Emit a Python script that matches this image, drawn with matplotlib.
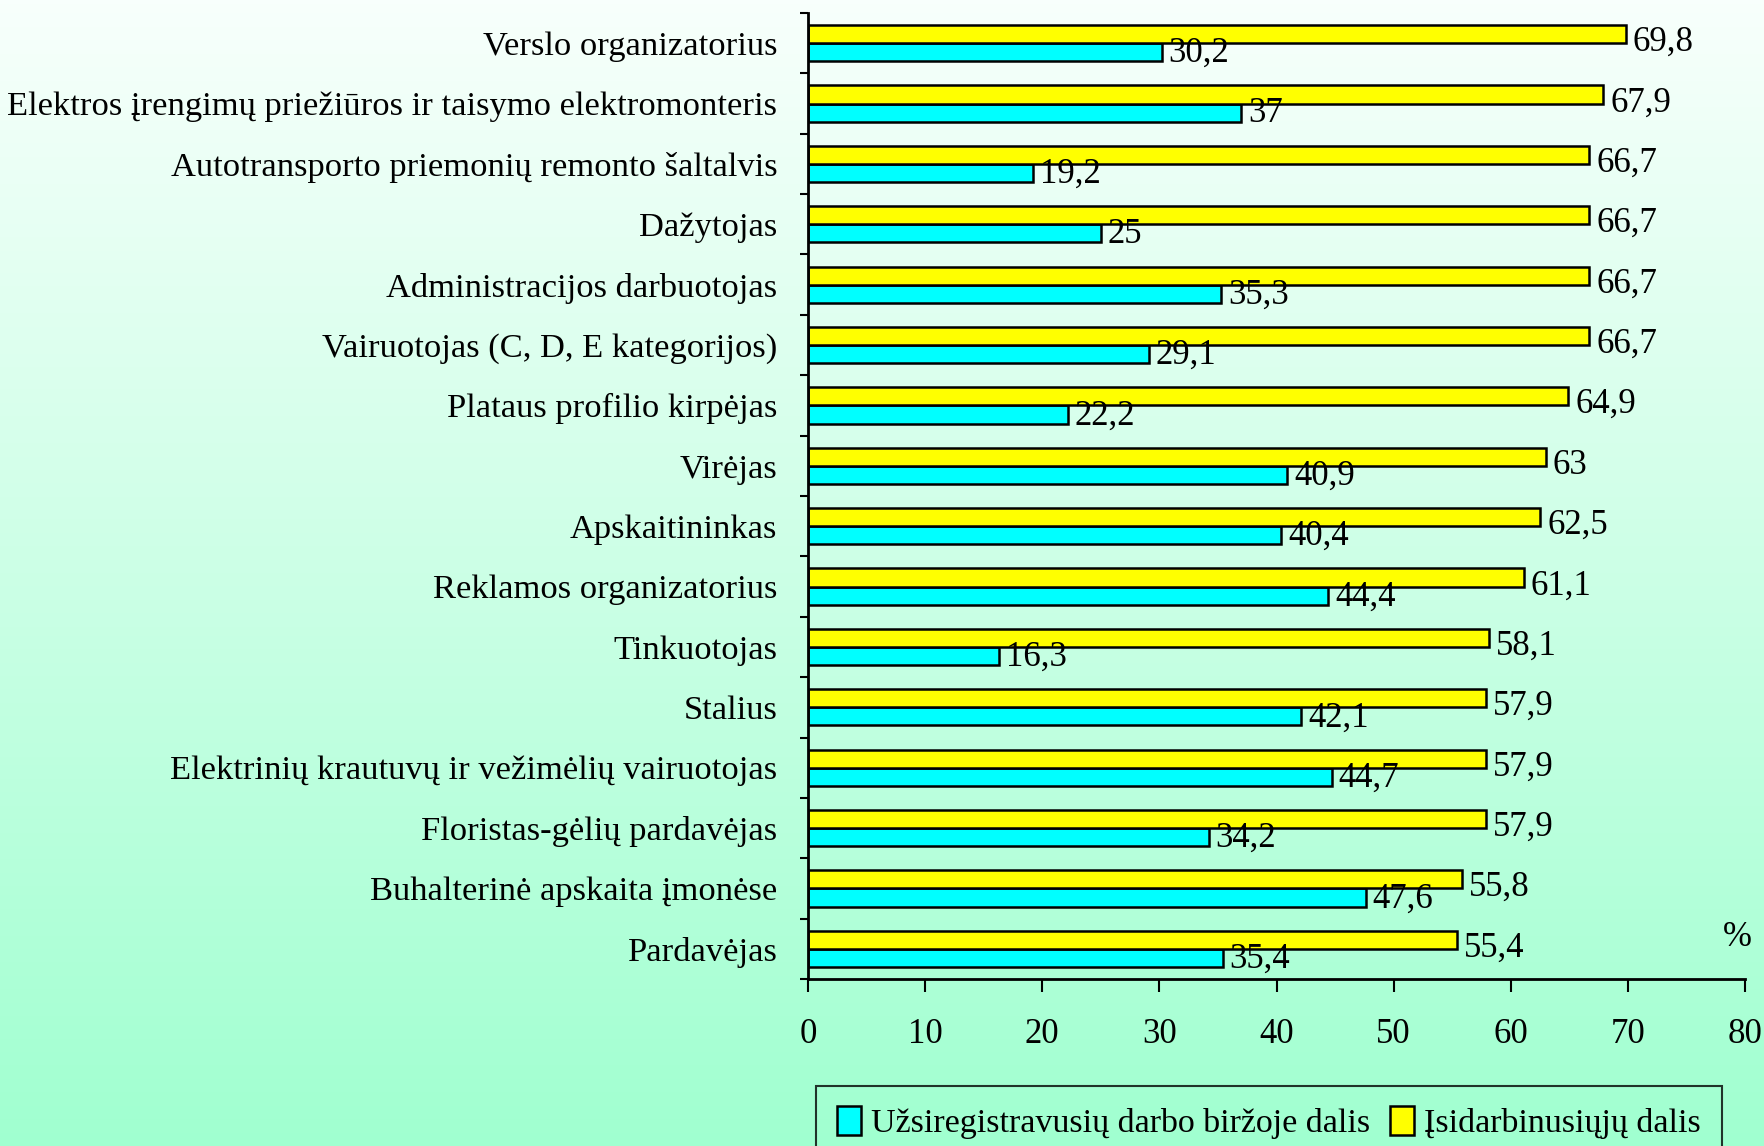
import numpy as np
import matplotlib
matplotlib.use('Agg')
import matplotlib.pyplot as plt
from matplotlib.colors import LinearSegmentedColormap

plt.rcParams['font.family'] = ['Liberation Serif', 'DejaVu Serif']

occupations = [
    'Verslo organizatorius',
    'Elektros įrengimų priežiūros ir taisymo elektromonteris',
    'Autotransporto priemonių remonto šaltalvis',
    'Dažytojas',
    'Administracijos darbuotojas',
    'Vairuotojas (C, D, E kategorijos)',
    'Plataus profilio kirpėjas',
    'Virėjas',
    'Apskaitininkas',
    'Reklamos organizatorius',
    'Tinkuotojas',
    'Stalius',
    'Elektrinių krautuvų ir vežimėlių vairuotojas',
    'Floristas-gėlių pardavėjas',
    'Buhalterinė apskaita įmonėse',
    'Pardavėjas',
]
employed = [69.8, 67.9, 66.7, 66.7, 66.7, 66.7, 64.9, 63, 62.5, 61.1, 58.1, 57.9, 57.9, 57.9, 55.8, 55.4]
registered = [30.2, 37, 19.2, 25, 35.3, 29.1, 22.2, 40.9, 40.4, 44.4, 16.3, 42.1, 44.7, 34.2, 47.6, 35.4]
xticks = [0, 10, 20, 30, 40, 50, 60, 70, 80]

legend_labels = ['Užsiregistravusių darbo biržoje dalis', 'Įsidarbinusiųjų dalis']


def fmt(v):
    if float(v).is_integer():
        return str(int(v))
    return ('%.1f' % v).replace('.', ',')


fig = plt.figure(figsize=(17.65, 11.46), dpi=100)

# background gradient
bg = fig.add_axes([0, 0, 1, 1], zorder=-1)
cmap = LinearSegmentedColormap.from_list('bg', ['#f8fffc', '#a0ffd0'])
bg.imshow(np.linspace(0, 1, 256).reshape(-1, 1), aspect='auto', cmap=cmap,
          extent=[0, 1, 0, 1], origin='upper')
bg.axis('off')

ax = fig.add_axes([0.4578, 0.1457, 0.5309, 0.843])
ax.set_facecolor('none')

y = np.arange(len(occupations))
h = 0.3
b1 = ax.barh(y + h / 2, registered, height=h, color='#00ffff', edgecolor='black',
             linewidth=1.8, label=legend_labels[0])
b2 = ax.barh(y - h / 2, employed, height=h, color='#ffff00', edgecolor='black',
             linewidth=1.8, label=legend_labels[1])

for yi, v in zip(y, employed):
    ax.annotate(fmt(v), (v, yi - h / 2), xytext=(5, -6), textcoords='offset points',
                ha='left', va='center', fontsize=25)
for yi, v in zip(y, registered):
    ax.annotate(fmt(v), (v, yi + h / 2), xytext=(5, -1), textcoords='offset points',
                ha='left', va='center', fontsize=25)

ax.set_xlim(0, 80)
ax.set_ylim(len(occupations) - 0.5, -0.5)
ax.set_xticks(xticks)
ax.set_xticklabels([str(t) for t in xticks], fontsize=25)
ax.set_yticks(y)
ax.set_yticklabels(occupations, fontsize=24.8)
ax.set_yticks(np.arange(len(occupations) + 1) - 0.5, minor=True)
ax.tick_params(axis='y', which='major', length=0, pad=22)
ax.tick_params(axis='y', which='minor', length=6, width=1.5, direction='out')
ax.tick_params(axis='x', length=9, width=1.5, direction='out', pad=19)

for s in ['top', 'right']:
    ax.spines[s].set_visible(False)
for s in ['left', 'bottom']:
    ax.spines[s].set_linewidth(2)

ax.text(0.9916, 0.043, '%', transform=ax.transAxes, ha='center', va='center', fontsize=25)

leg = fig.legend(handles=[b1, b2], labels=legend_labels, loc='upper center',
                 bbox_to_anchor=(0.719, 0.0524), ncol=2, fontsize=24.5, frameon=True,
                 fancybox=False, edgecolor='black', facecolor='none',
                 handlelength=0.7, handleheight=0.9, handletextpad=0.3,
                 columnspacing=0.6, borderpad=0.6, borderaxespad=0)
leg.get_frame().set_linewidth(1.5)

fig.savefig('out.png', dpi=100)
